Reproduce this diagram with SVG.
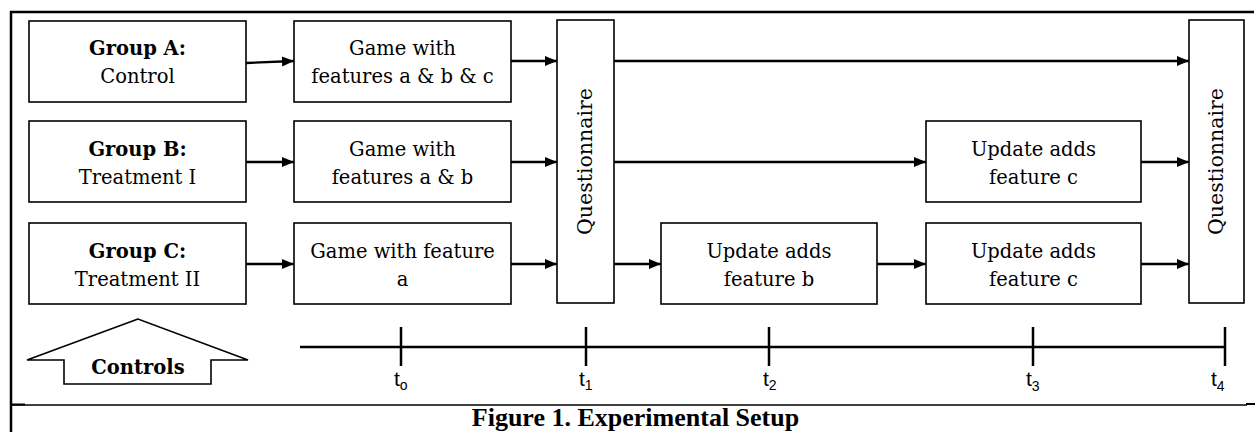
<svg xmlns="http://www.w3.org/2000/svg" width="1255" height="432" viewBox="0 0 1255 432">
  <style>
    .box { fill: #fff; stroke: #000; stroke-width: 1.6; }
    .lbl { font-family: "DejaVu Serif", Georgia, serif; font-size: 19.5px; fill: #000; text-anchor: middle; }
    .b { font-weight: bold; }
    .conn { fill: none; stroke: #000; stroke-width: 2.4; marker-end: url(#head); }
    .axis { stroke: #000; stroke-width: 2.5; fill: none; }
    .tk { font-family: "Liberation Sans", Arial, sans-serif; font-size: 21px; fill: #000; }
    .sub { font-size: 14px; }
    .frame { stroke: #000; fill: none; }
  </style>
  <defs>
    <marker id="head" markerUnits="userSpaceOnUse" markerWidth="13" markerHeight="11" refX="12" refY="5.5" orient="auto">
      <path d="M0,0.5 L12,5.5 L0,10.5 z" fill="#000"/>
    </marker>
  </defs>

  <rect width="1255" height="432" fill="#fff"/>

  <!-- outer frame -->
  <g id="frame">
    <line class="frame" x1="10" y1="12" x2="1254" y2="12" stroke-width="2.5"/>
    <line class="frame" x1="11" y1="11" x2="11" y2="432" stroke-width="2.5"/>
    <line class="frame" x1="11" y1="405" x2="1247" y2="405" stroke-width="1.5"/>
    <line class="frame" x1="11" y1="404.5" x2="25" y2="404.5" stroke-width="2"/>
    <line class="frame" x1="1246" y1="404" x2="1255" y2="404" stroke-width="2"/>
  </g>

  <!-- connectors -->
  <g id="connectors">
    <path class="conn" d="M246,63 L294,61"/>
    <path class="conn" d="M511,61 L557,61"/>
    <path class="conn" d="M246,162 L294,162"/>
    <path class="conn" d="M511,162 L557,162"/>
    <path class="conn" d="M246,264 L294,264"/>
    <path class="conn" d="M511,264 L557,264"/>
    <path class="conn" d="M614,61 L1189,61"/>
    <path class="conn" d="M614,162 L926,162"/>
    <path class="conn" d="M1141,162 L1189,162"/>
    <path class="conn" d="M614,264 L661,264"/>
    <path class="conn" d="M877,264 L926,264"/>
    <path class="conn" d="M1141,264 L1189,264"/>
  </g>

  <!-- groups -->
  <g id="groupA">
    <rect class="box" x="29" y="21" width="217" height="81"/>
    <text class="lbl b" x="137.5" y="55">Group A:</text>
    <text class="lbl" x="137.5" y="83">Control</text>
  </g>
  <g id="groupB">
    <rect class="box" x="29" y="121" width="217" height="81"/>
    <text class="lbl b" x="137.5" y="156">Group B:</text>
    <text class="lbl" x="137.5" y="184">Treatment I</text>
  </g>
  <g id="groupC">
    <rect class="box" x="29" y="223" width="217" height="81"/>
    <text class="lbl b" x="137.5" y="258">Group C:</text>
    <text class="lbl" x="137.5" y="286">Treatment II</text>
  </g>

  <!-- games -->
  <g id="gameA">
    <rect class="box" x="294" y="21" width="217" height="81"/>
    <text class="lbl" x="402.5" y="55">Game with</text>
    <text class="lbl" x="402.5" y="83">features a &amp; b &amp; c</text>
  </g>
  <g id="gameB">
    <rect class="box" x="294" y="121" width="217" height="81"/>
    <text class="lbl" x="402.5" y="156">Game with</text>
    <text class="lbl" x="402.5" y="184">features a &amp; b</text>
  </g>
  <g id="gameC">
    <rect class="box" x="294" y="223" width="217" height="81"/>
    <text class="lbl" x="402.5" y="258">Game with feature</text>
    <text class="lbl" x="402.5" y="286">a</text>
  </g>

  <!-- questionnaires -->
  <g id="questionnaire1">
    <rect class="box" x="557" y="20" width="57" height="283"/>
    <text class="lbl" style="font-size:20.5px" transform="translate(592,161.5) rotate(-90)" x="0" y="0">Questionnaire</text>
  </g>
  <g id="questionnaire2">
    <rect class="box" x="1189" y="20" width="55" height="283"/>
    <text class="lbl" style="font-size:20.5px" transform="translate(1223,161.5) rotate(-90)" x="0" y="0">Questionnaire</text>
  </g>

  <!-- updates -->
  <g id="updateB_c">
    <rect class="box" x="926" y="121" width="215" height="81"/>
    <text class="lbl" x="1033.5" y="156">Update adds</text>
    <text class="lbl" x="1033.5" y="184">feature c</text>
  </g>
  <g id="updateC_b">
    <rect class="box" x="661" y="223" width="216" height="81"/>
    <text class="lbl" x="769" y="258">Update adds</text>
    <text class="lbl" x="769" y="286">feature b</text>
  </g>
  <g id="updateC_c">
    <rect class="box" x="926" y="223" width="215" height="81"/>
    <text class="lbl" x="1033.5" y="258">Update adds</text>
    <text class="lbl" x="1033.5" y="286">feature c</text>
  </g>

  <!-- controls arrow -->
  <g id="controls">
    <polygon points="138,319 27,360 64,360 64,384 211,384 211,360 248,360" fill="#fff" stroke="#000" stroke-width="1.6"/>
    <text class="lbl b" x="138" y="374">Controls</text>
  </g>

  <!-- timeline -->
  <g id="timeline">
    <line class="axis" x1="300" y1="347" x2="1225" y2="347"/>
    <line class="axis" x1="401" y1="327" x2="401" y2="366"/>
    <line class="axis" x1="586" y1="327" x2="586" y2="366"/>
    <line class="axis" x1="769" y1="327" x2="769" y2="366"/>
    <line class="axis" x1="1033" y1="327" x2="1033" y2="366"/>
    <line class="axis" x1="1225" y1="327" x2="1225" y2="366"/>
    <text class="tk" x="394" y="386">t<tspan class="sub" dy="4">o</tspan></text>
    <text class="tk" x="579" y="386">t<tspan class="sub" dy="4">1</tspan></text>
    <text class="tk" x="763" y="386">t<tspan class="sub" dy="4">2</tspan></text>
    <text class="tk" x="1026" y="386">t<tspan class="sub" dy="5">3</tspan></text>
    <text class="tk" x="1211" y="386">t<tspan class="sub" dy="5">4</tspan></text>
  </g>

  <!-- caption -->
  <text x="635.5" y="426" font-family="'Liberation Serif', 'Times New Roman', serif" font-size="26" font-weight="bold" text-anchor="middle">Figure 1. Experimental Setup</text>
</svg>
